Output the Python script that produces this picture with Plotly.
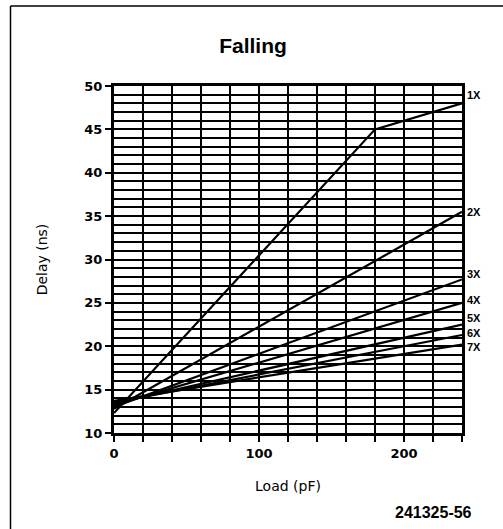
import plotly.graph_objects as go

# Falling-edge delay vs. capacitive load for drive strengths 1X..7X
drive_labels = ["1X", "2X", "3X", "4X", "5X", "6X", "7X"]
load_1x = [0, 180, 240]
delay_1x = [12.3, 45.0, 48.0]
load_linear = [0, 240]
delay_2x = [12.8, 35.5]
delay_3x = [13.0, 27.7]
delay_4x = [13.2, 25.0]
delay_5x = [13.4, 22.5]
delay_6x = [13.5, 21.3]
delay_7x = [13.7, 20.2]

x_ticks = [0, 100, 200]
y_ticks = [10, 15, 20, 25, 30, 35, 40, 45, 50]

series = [
    (load_1x, delay_1x),
    (load_linear, delay_2x),
    (load_linear, delay_3x),
    (load_linear, delay_4x),
    (load_linear, delay_5x),
    (load_linear, delay_6x),
    (load_linear, delay_7x),
]
# small vertical nudges (px) so the end labels don't collide
label_shift = [8, 0, 5, 3, 7, 2, -2]

fig = go.Figure()
for (xs, ys), name in zip(series, drive_labels):
    fig.add_trace(go.Scatter(x=xs, y=ys, mode="lines", name=name,
                             line=dict(color="black", width=2.2),
                             showlegend=False, hoverinfo="skip"))

for (xs, ys), name, dy in zip(series, drive_labels, label_shift):
    fig.add_annotation(x=xs[-1], y=ys[-1], text=name, showarrow=False,
                       xanchor="left", yanchor="middle", xshift=3, yshift=dy,
                       font=dict(family="Liberation Sans", size=11,
                                 color="black", weight="bold"))

W, H = 503, 529
L, R, T, B = 114, 41, 86, 96
pw, ph = W - L - R, H - T - B

fig.update_layout(
    width=W, height=H,
    margin=dict(l=L, r=R, t=T, b=B, pad=0),
    paper_bgcolor="white", plot_bgcolor="white",
    title=dict(text="<b>Falling</b>", x=0.503, xanchor="center",
               y=1 - 46 / H, yanchor="middle",
               font=dict(family="Liberation Sans", size=21, color="black")),
    xaxis=dict(range=[0, 240], tickvals=x_ticks, ticks="outside", ticklen=6,
               tickwidth=2, tickcolor="black",
               minor=dict(dtick=20, ticks="outside", ticklen=6, tickwidth=2,
                          tickcolor="black", showgrid=True, gridcolor="black",
                          gridwidth=1.6),
               showgrid=True, gridcolor="black", gridwidth=1.6,
               showline=True, linecolor="black", linewidth=3, mirror=True,
               zeroline=False,
               tickfont=dict(family="DejaVu Sans", size=13, color="black",
                             weight="bold"),
               title=dict(text="Load (pF)", standoff=22,
                          font=dict(family="DejaVu Sans", size=14,
                                    color="black"))),
    yaxis=dict(range=[10, 50], tickvals=y_ticks, ticks="outside", ticklen=6,
               tickwidth=2, tickcolor="black",
               minor=dict(dtick=1, showgrid=True, gridcolor="black",
                          gridwidth=1.6),
               showgrid=True, gridcolor="black", gridwidth=1.6,
               showline=True, linecolor="black", linewidth=3, mirror=True,
               zeroline=False,
               tickfont=dict(family="DejaVu Sans", size=13, color="black",
                             weight="bold"),
               title=dict(text="Delay (ns)", standoff=34,
                          font=dict(family="DejaVu Sans", size=14,
                                    color="black"))),
)

# figure number, bottom right
fig.add_annotation(xref="paper", yref="paper", x=(474 - L) / pw,
                   y=-(512 - (T + ph)) / ph, text="241325-56",
                   showarrow=False, xanchor="right", yanchor="middle",
                   font=dict(family="Liberation Sans", size=16, color="black",
                             weight="bold"))

# page frame lines (left and top edges)
fx = (10.5 - L) / pw
fy_top = (T + ph - 6) / ph
fig.add_shape(type="line", xref="paper", yref="paper", x0=fx, x1=fx,
              y0=fy_top, y1=-(H - T - ph) / ph - 0.01,
              line=dict(color="black", width=1.5))
fig.add_shape(type="line", xref="paper", yref="paper", x0=fx,
              x1=(W - L) / pw + 0.01, y0=fy_top, y1=fy_top,
              line=dict(color="black", width=1.5))

fig.write_html("out.html")
